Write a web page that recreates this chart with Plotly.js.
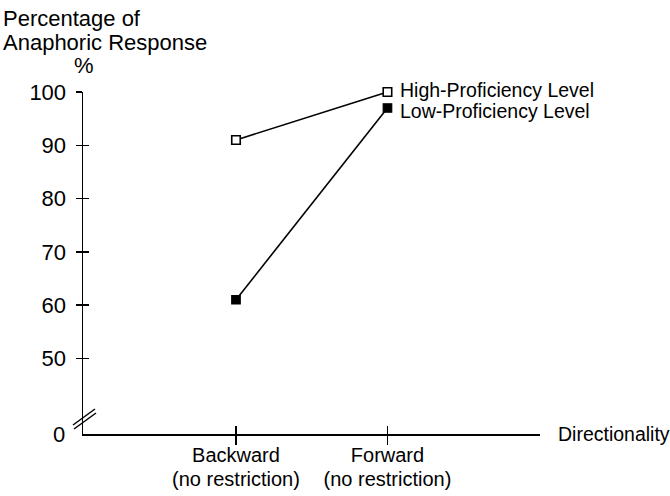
<!DOCTYPE html>
<html>
<head>
<meta charset="utf-8">
<script src="https://cdn.plot.ly/plotly-3.0.1.min.js"></script>
<style>
  html, body { margin: 0; padding: 0; background: #fff; }
  #chart { width: 670px; height: 496px; }
</style>
</head>
<body>
<div id="chart"></div>
<script>
// ---- data ----
const categories = ["Backward", "Forward"];
const categoryLabelsLine1 = ["Backward", "Forward"];
const categoryLabelsLine2 = ["(no restriction)", "(no restriction)"];
const highProficiency = [91, 100];
const lowProficiency = [61, 97];
const seriesNames = ["High-Proficiency Level", "Low-Proficiency Level"];
const yTickValues = [50, 60, 70, 80, 90, 100];
const yTickLabels = ["50", "60", "70", "80", "90", "100"];

// ---- styling ----
const FONT = "Liberation Sans, Arial, Helvetica, sans-serif";
const yRange = [35.8, 100];   // bottom of broken axis shown as "0"
const xRange = [-1.01, 2.007];
const last = categories.length - 1;

const traces = [
  {
    x: categories, y: highProficiency, name: seriesNames[0],
    xaxis: "x", yaxis: "y",
    type: "scatter", mode: "lines+markers",
    line: {color: "#000", width: 1.6},
    marker: {symbol: "square", size: 8.5, color: "#fff", line: {color: "#000", width: 1.6}},
    cliponaxis: false, hoverinfo: "skip"
  },
  {
    x: categories, y: lowProficiency, name: seriesNames[1],
    xaxis: "x2", yaxis: "y2",
    type: "scatter", mode: "lines+markers",
    line: {color: "#000", width: 1.6},
    marker: {symbol: "square", size: 8.5, color: "#000", line: {color: "#000", width: 1.2}},
    cliponaxis: false, hoverinfo: "skip"
  }
];

const axisCommon = {
  showgrid: false, zeroline: false,
  linecolor: "#000", linewidth: 1.5,
  tickcolor: "#000", tickwidth: 1.5
};

const layout = {
  width: 670, height: 496,
  margin: {l: 83, r: 130, t: 92, b: 62, pad: 0},
  paper_bgcolor: "#fff", plot_bgcolor: "rgba(0,0,0,0)",
  showlegend: false,
  font: {family: FONT, size: 20, color: "#000"},
  xaxis: Object.assign({}, axisCommon, {
    type: "category", categoryarray: categories, range: xRange,
    showline: true, ticks: "outside", ticklen: 9,
    tickmode: "array", tickvals: categories, ticktext: categoryLabelsLine1,
    tickfont: {family: FONT, size: 20, color: "#000"},
    ticklabelstandoff: -7,
    anchor: "y"
  }),
  yaxis: Object.assign({}, axisCommon, {
    range: yRange, showline: true, ticks: "outside", ticklen: 6,
    tickmode: "array", tickvals: yTickValues, ticktext: yTickLabels,
    tickfont: {family: FONT, size: 22, color: "#000"},
    ticklabelstandoff: 5,
    anchor: "x"
  }),
  xaxis2: Object.assign({}, axisCommon, {
    type: "category", categoryarray: categories, range: xRange,
    overlaying: "x", anchor: "y2", side: "bottom",
    showline: false, ticks: "inside", ticklen: 8,
    tickmode: "array", tickvals: categories, ticktext: categoryLabelsLine2,
    showticklabels: true,
    tickfont: {family: FONT, size: 20, color: "#000"},
    ticklabelstandoff: 31
  }),
  yaxis2: Object.assign({}, axisCommon, {
    range: yRange, overlaying: "y", anchor: "x2", side: "left",
    showline: false, ticks: "inside", ticklen: 6,
    tickmode: "array", tickvals: yTickValues, showticklabels: false
  }),
  annotations: [
    {text: seriesNames[0], xref: "x", yref: "y", x: categories[last], y: highProficiency[last],
     xanchor: "left", yanchor: "middle", xshift: 11, yshift: 2, showarrow: false,
     font: {family: FONT, size: 19.5}},
    {text: seriesNames[1], xref: "x", yref: "y", x: categories[last], y: lowProficiency[last],
     xanchor: "left", yanchor: "middle", xshift: 11, yshift: -3, showarrow: false,
     font: {family: FONT, size: 19.5}},
    {text: "Percentage of", xref: "paper", yref: "paper", x: -0.1795, y: 1.216,
     xanchor: "left", yanchor: "middle", showarrow: false, font: {family: FONT, size: 22}},
    {text: "Anaphoric Response", xref: "paper", yref: "paper", x: -0.1795, y: 1.144,
     xanchor: "left", yanchor: "middle", showarrow: false, font: {family: FONT, size: 22}},
    {text: "%", xref: "paper", yref: "paper", x: 0.002, y: 1.077,
     xanchor: "center", yanchor: "middle", showarrow: false, font: {family: FONT, size: 22}},
    {text: "0", xref: "paper", yref: "y", x: -0.035, y: yRange[0],
     xanchor: "right", yanchor: "middle", showarrow: false, font: {family: FONT, size: 22}},
    {text: "Directionality", xref: "paper", yref: "y", x: 1.035, y: yRange[0],
     xanchor: "left", yanchor: "middle", showarrow: false, font: {family: FONT, size: 19.5}}
  ],
  shapes: [
    {type: "line", xref: "paper", yref: "paper", x0: -0.0219, y0: 0.0263, x1: 0.0263, y1: 0.0731,
     line: {color: "#000", width: 1.5}},
    {type: "line", xref: "paper", yref: "paper", x0: -0.0197, y0: 0.0146, x1: 0.0285, y1: 0.0614,
     line: {color: "#000", width: 1.5}}
  ]
};

Plotly.newPlot("chart", traces, layout, {staticPlot: true, displayModeBar: false});
</script>
</body>
</html>
